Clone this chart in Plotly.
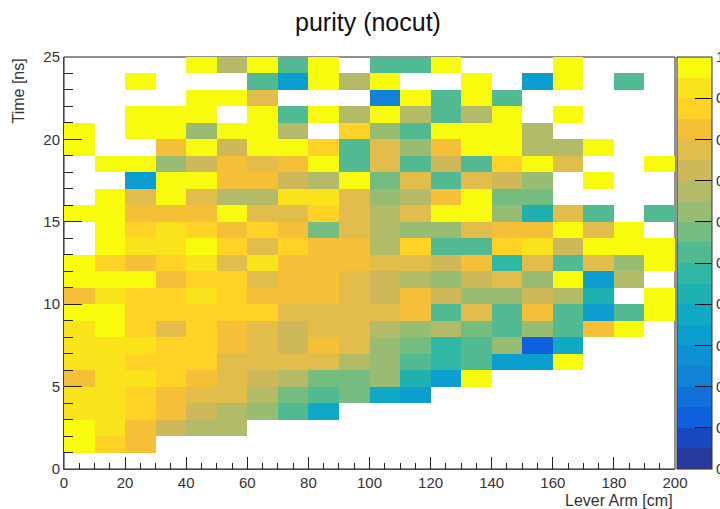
import plotly.graph_objects as go

x_edges = [0, 10, 20, 30, 40, 50, 60, 70, 80, 90, 100, 110, 120, 130, 140, 150, 160, 170, 180, 190, 200]
y_edges = list(range(0, 26))
_ = None
t00 = [_, _, _, _, _, _, _, _, _, _, _, _, _, _, _, _, _, _, _, _]
t01 = [1.0, .88, .83, _, _, _, _, _, _, _, _, _, _, _, _, _, _, _, _, _]
t02 = [1.0, .93, .83, .73, .68, .68, _, _, _, _, _, _, _, _, _, _, _, _, _, _]
t03 = [.93, .93, .88, .83, .73, .68, .63, .53, .38, _, _, _, _, _, _, _, _, _, _, _]
t04 = [.93, .93, .88, .83, .78, .78, .68, .58, .53, .58, .38, .33, _, _, _, _, _, _, _, _]
t05 = [.83, .93, .93, .88, .83, .78, .73, .68, .58, .58, .63, .43, .33, 1.0, _, _, _, _, _, _]
t06 = [.93, .93, .88, .88, .88, .78, .78, .78, .78, .68, .63, .53, .48, .53, .33, .33, 1.0, _, _, _]
t07 = [.93, .93, .93, .88, .88, .83, .78, .73, .83, .78, .63, .58, .48, .53, .63, .13, .38, _, _, _]
t08 = [.93, 1.0, .88, .78, .88, .83, .78, .73, .78, .78, .68, .63, .68, .58, .53, .63, .53, .83, 1.0, _]
t09 = [1.0, 1.0, .88, .88, .88, .88, .88, .78, .78, .78, .78, .83, .53, .78, .53, .83, .53, .33, .53, 1.0]
t10 = [.83, .93, .88, .88, .93, .88, .83, .83, .83, .78, .73, .83, .73, .63, .63, .73, .68, .43, _, 1.0]
t11 = [1.0, 1.0, 1.0, .83, .88, .88, .78, .83, .83, .78, .73, .68, .63, .73, .78, .63, 1.0, .33, .68, _]
t12 = [1.0, .88, .83, .88, .93, .78, .93, .83, .83, .83, .78, .78, .73, .83, .48, .78, .53, .78, .63, 1.0]
t13 = [_, 1.0, .93, .93, 1.0, .88, .78, .88, .83, .83, .68, .88, .53, .53, .88, .93, .73, 1.0, 1.0, 1.0]
t14 = [_, 1.0, .88, .93, .88, .83, .88, .83, .58, .78, .68, .63, .63, .78, .83, .83, 1.0, .78, 1.0, _]
t15 = [1.0, 1.0, .83, .83, .83, 1.0, .78, .78, .88, .78, .68, .78, 1.0, 1.0, .63, .43, .78, .53, _, .53]
t16 = [_, 1.0, .78, 1.0, .78, .68, .68, .93, .93, .78, .63, .68, .83, 1.0, .58, .58, _, _, _, _]
t17 = [_, _, .33, 1.0, 1.0, .83, .83, .73, .68, 1.0, .58, .78, .53, .78, .73, .63, _, 1.0, _, _]
t18 = [_, 1.0, 1.0, .63, .73, .83, .78, .83, 1.0, .53, .78, .53, .73, .53, .88, 1.0, .78, _, _, 1.0]
t19 = [1.0, _, _, .83, 1.0, .73, 1.0, 1.0, .88, .53, .78, .63, .83, 1.0, 1.0, .68, .68, 1.0, _, _]
t20 = [1.0, _, 1.0, 1.0, .63, 1.0, 1.0, .68, _, .88, .63, .53, 1.0, 1.0, 1.0, .68, _, _, _, _]
t21 = [_, _, 1.0, 1.0, 1.0, _, 1.0, .53, 1.0, .68, 1.0, .68, .53, .68, 1.0, _, 1.0, _, _, _]
t22 = [_, _, _, _, 1.0, 1.0, .78, _, _, _, .23, 1.0, .53, 1.0, .53, _, _, _, _, _]
t23 = [_, _, 1.0, _, _, _, .53, .33, 1.0, .68, 1.0, _, _, 1.0, _, .33, 1.0, _, .53, _]
t24 = [_, _, _, _, 1.0, .68, 1.0, .53, 1.0, _, .53, .53, 1.0, _, _, _, 1.0, _, _, _]
purity = [t00, t01, t02, t03, t04, t05, t06, t07, t08, t09, t10, t11, t12, t13, t14, t15, t16, t17, t18, t19, t20, t21, t22, t23, t24]

palette = ["#283AA0", "#1848BD", "#0F60DD", "#1170DB", "#1282D6", "#0E90D4", "#0B9ECE", "#0FA8C5", "#1FB0B0", "#30B8A5",
           "#51BA93", "#74BC80", "#97BC72", "#B4BB68", "#CFB85A", "#E2BD4B", "#F5C038", "#FFD225", "#FBE31C", "#F9FB0E"]
scale = []
for i, c in enumerate(palette):
    scale += [[i / 20, c], [(i + 1) / 20, c]]

cbar_ticks = [0, .1, .2, .3, .4, .5, .6, .7, .8, .9, 1]
cbar_text = ["0", "0.1", "0.2", "0.3", "0.4", "0.5", "0.6", "0.7", "0.8", "0.9", "1"]

FONT = "Liberation Sans"
INK = "#333333"

fig = go.Figure(go.Heatmap(
    x=x_edges, y=y_edges, z=purity, zmin=0, zmax=1, colorscale=scale, hoverongaps=False,
    colorbar=dict(x=1.0033, xanchor="left", xpad=0, ypad=0, y=0, yanchor="bottom", len=1, thickness=35,
                  outlinecolor=INK, outlinewidth=1, ticks="inside", ticklen=17, tickcolor="#111111", tickwidth=1,
                  tickvals=cbar_ticks, ticktext=cbar_text, ticklabelposition="outside",
                  tickfont=dict(family=FONT, size=15, color=INK)),
))
fig.update_layout(
    width=720, height=509, margin=dict(l=64, r=45, t=57, b=40, autoexpand=False),
    paper_bgcolor="white", plot_bgcolor="rgba(0,0,0,0)",
    font=dict(family=FONT, color=INK),
    title=dict(text="purity (nocut)", x=368 / 720, xanchor="center", y=1 - 22 / 509, yanchor="middle",
               font=dict(family=FONT, size=25, color="#111111")),
    xaxis=dict(range=[0, 200], tickvals=list(range(0, 201, 20)), ticks="inside", ticklen=12, tickcolor="#222222",
               minor=dict(dtick=5, ticks="inside", ticklen=6, tickcolor="#222222"),
               showgrid=False, zeroline=False, showline=True, linecolor="#444444", linewidth=1,
               tickfont=dict(family=FONT, size=15, color=INK)),
    yaxis=dict(range=[0, 25], tickvals=list(range(0, 26, 5)), ticks="inside", ticklen=18, tickcolor="#222222",
               minor=dict(dtick=1, ticks="inside", ticklen=9, tickcolor="#222222"),
               showgrid=False, zeroline=False, showline=True, linecolor="#444444", linewidth=1,
               tickfont=dict(family=FONT, size=15, color=INK)),
    shapes=[dict(type="rect", xref="x domain", yref="y domain", x0=0, x1=1, y0=0, y1=1, layer="below",
                 line=dict(color="#222222", width=1))],
    annotations=[
        dict(text="Lever Arm [cm]", xref="paper", yref="paper", x=1, y=0, xanchor="right", yanchor="top", yshift=-21,
             showarrow=False, font=dict(family=FONT, size=16, color=INK)),
        dict(text="Time [ns]", xref="paper", yref="paper", x=0, y=1, xanchor="center", yanchor="top", xshift=-46,
             textangle=-90, showarrow=False, font=dict(family=FONT, size=16, color=INK)),
    ],
)
fig.write_html("out.html", config={"displayModeBar": False},
               post_script="document.body.style.margin='0';document.documentElement.style.overflow='hidden';")
